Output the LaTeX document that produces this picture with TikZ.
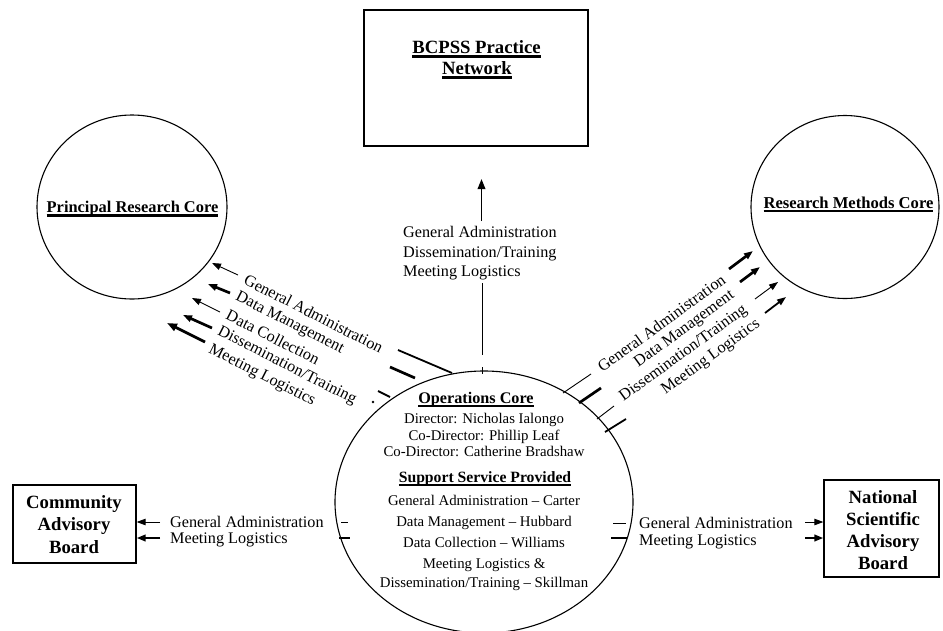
\documentclass[tikz,border=0pt]{standalone}
\usepackage{fontspec}
\setmainfont{Liberation Serif}
\usetikzlibrary{arrows.meta,shapes.geometric}
\newsavebox\myulbox
\newcommand\myul[3]{\sbox\myulbox{#3}\rlap{\rule[-#2]{\wd\myulbox}{#1}}\usebox\myulbox}
\begin{document}
\begin{tikzpicture}[x=1pt,y=-1pt,
  core/.style={ellipse,draw,line width=1.1pt,inner sep=0pt},
  boxnode/.style={rectangle,draw,line width=1.3pt,inner sep=0pt},
  lbl/.style={font=\fontsize{16.2}{19}\selectfont,inner sep=0pt},
  body/.style={font=\fontsize{14.8}{17}\selectfont,inner sep=0pt,anchor=base},
  bighead/.style={font=\fontsize{18.7}{23}\selectfont\bfseries,inner sep=0pt,anchor=base},
  lnA/.style={line width=0.9pt},
  lnB/.style={line width=1.8pt},
  lnC/.style={line width=2.7pt},
  tipA/.style={-{Triangle[length=9pt,width=6.5pt]}},
  tipB/.style={-{Triangle[length=10pt,width=7.5pt]}}]
\useasboundingbox (0,0) rectangle (943,630);

% ---------- main shapes ----------
\node[boxnode,minimum width=224pt,minimum height=136pt] (bcpss) at (476,78) {};
\node[core,minimum width=190pt,minimum height=184pt] (prc) at (132,207) {};
\node[core,minimum width=188pt,minimum height=183pt] (rmc) at (845,207) {};
\node[core,minimum width=298pt,minimum height=262pt] (ops) at (484,502) {};
\node[boxnode,minimum width=123pt,minimum height=78pt] (cab) at (74.5,524) {};
\node[boxnode,minimum width=115pt,minimum height=97pt] (nsab) at (881.5,528.5) {};

% ---------- titles ----------
\node[bighead] (bcpss1) at (476.5,53) {\myul{2.2pt}{4.5pt}{BCPSS Practice}};
\node[bighead] (bcpss2) at (477,74) {\myul{2.2pt}{4.5pt}{Network}};
\node[inner sep=0pt,anchor=base,font=\fontsize{16.4}{18}\selectfont\bfseries] (prct) at (132.5,212) {\myul{2.6pt}{4.5pt}{Principal Research Core}};
\node[inner sep=0pt,anchor=base,font=\fontsize{16.6}{18}\selectfont\bfseries] (rmct) at (848.5,208) {\myul{1.6pt}{4pt}{Research Methods Core}};
\node[bighead] (cab1) at (74,508) {Community};
\node[bighead] (cab2) at (74,530.5) {Advisory};
\node[bighead] (cab3) at (74,553) {Board};
\node[bighead] (ns1) at (883,503) {National};
\node[bighead] (ns2) at (883,525) {Scientific};
\node[bighead] (ns3) at (883,547) {Advisory};
\node[bighead] (ns4) at (883,569) {Board};

% ---------- operations core text ----------
\node[inner sep=0pt,anchor=base,font=\fontsize{16.2}{18}\selectfont\bfseries] (o1) at (476,403) {\myul{1.6pt}{4pt}{Operations Core}};
\node[body] (o2) at (484,423) {Director: Nicholas Ialongo};
\node[body] (o3) at (484,440) {Co-Director: Phillip Leaf};
\node[body] (o4) at (484,456) {Co-Director: Catherine Bradshaw};
\node[inner sep=0pt,anchor=base,font=\fontsize{15.7}{18}\selectfont\bfseries] (o5) at (485,482) {\myul{1.8pt}{4pt}{Support Service Provided}};
\node[body] (o6) at (484,505) {General Administration -- Carter};
\node[body] (o7) at (484,526) {Data Management -- Hubbard};
\node[body] (o8) at (484,547) {Data Collection -- Williams};
\node[body] (o9) at (484,568) {Meeting Logistics \&};
\node[body] (o10) at (484,587) {Dissemination/Training -- Skillman};

% ---------- top connector ----------
\node[lbl,anchor=base west] (t1) at (403,237) {General Administration};
\node[lbl,anchor=base west] (t2) at (403,257) {Dissemination/Training};
\node[lbl,anchor=base west] (t3) at (403,276) {Meeting Logistics};
\coordinate (tu1) at (481.5,221);
\coordinate (tu2) at (481.5,179);
\coordinate (td1) at (482,283);
\coordinate (td2) at (482,355);
\coordinate (tk1) at (482,367);
\coordinate (tk2) at (482,374);
\draw[lnB,tipB] (tu1) -- (tu2);
\draw[lnA] (td1) -- (td2);
\draw[lnA] (tk1) -- (tk2);

% ---------- left connectors to Principal Research Core ----------
\node[lbl,anchor=west,rotate=-27] (l1) at (245.2,278.7) {General Administration};
\node[lbl,anchor=west,rotate=-27] (l2) at (236.3,296.2) {Data Management};
\node[lbl,anchor=west,rotate=-27] (l3) at (227.3,313.8) {Data Collection};
\node[lbl,anchor=west,rotate=-27] (l4) at (218.4,331.3) {Dissemination/Training};
\node[lbl,anchor=west,rotate=-27] (l5) at (209.4,348.9) {Meeting Logistics};
\coordinate (pa1) at (238,275); \coordinate (pb1) at (212,263);
\coordinate (pa2) at (230,293); \coordinate (pb2) at (208,284);
\coordinate (pa3) at (220,312); \coordinate (pb3) at (192,298);
\coordinate (pa4) at (212,328); \coordinate (pb4) at (183,315);
\coordinate (pa5) at (205,342); \coordinate (pb5) at (167,323);
\draw[lnA,tipA] (pa1) -- (pb1);
\draw[lnC,tipA] (pa2) -- (pb2);
\draw[lnA,tipA] (pa3) -- (pb3);
\draw[lnC,tipA] (pa4) -- (pb4);
\draw[lnC,tipB] (pa5) -- (pb5);
\coordinate (pc1) at (398,350); \coordinate (pd1) at (452,373);
\coordinate (pc2) at (390,367); \coordinate (pd2) at (415,378);
\coordinate (pc3) at (378,391); \coordinate (pd3) at (390,397);
\coordinate (pdot) at (373,402);
\draw[lnB] (pc1) -- (pd1);
\draw[lnC] (pc2) -- (pd2);
\draw[lnB] (pc3) -- (pd3);
\fill (pdot) circle (1.4pt);

% ---------- right connectors to Research Methods Core ----------
\node[lbl,rotate=36] (r1) at (661.3,323.0) {General Administration};
\node[lbl,rotate=36] (r2) at (684.6,329.5) {Data Management};
\node[lbl,rotate=36] (r3) at (683.6,353.7) {Dissemination/Training};
\node[lbl,rotate=36] (r4) at (711.0,357.4) {Meeting Logistics};
\coordinate (ra1) at (729,269); \coordinate (rb1) at (753,251);
\coordinate (ra2) at (740,282); \coordinate (rb2) at (760,267);
\coordinate (ra3) at (755,299); \coordinate (rb3) at (778,282);
\coordinate (ra4) at (765,313); \coordinate (rb4) at (786,297);
\draw[lnC,tipA] (ra1) -- (rb1);
\draw[lnC,tipA] (ra2) -- (rb2);
\draw[lnA,tipA] (ra3) -- (rb3);
\draw[lnB,tipA] (ra4) -- (rb4);
\coordinate (rc1) at (563,393); \coordinate (rd1) at (591,374);
\coordinate (rc2) at (579,403); \coordinate (rd2) at (601,388);
\coordinate (rc3) at (597,419); \coordinate (rd3) at (614,406);
\coordinate (rc4) at (605,432); \coordinate (rd4) at (626,419);
\draw[lnA] (rc1) -- (rd1);
\draw[lnC] (rc2) -- (rd2);
\draw[lnA] (rc3) -- (rd3);
\draw[lnB] (rc4) -- (rd4);

% ---------- Community Advisory Board ----------
\node[lbl,anchor=base west] (c1) at (170,527) {General Administration};
\node[lbl,anchor=base west] (c2) at (170,543) {Meeting Logistics};
\coordinate (ca1) at (160,522); \coordinate (cb1) at (cab.east |- ca1);
\coordinate (ca2) at (160,538); \coordinate (cb2) at (cab.east |- ca2);
\draw[lnA,tipA] (ca1) -- (cb1);
\draw[lnC,tipA] (ca2) -- (cb2);
\coordinate (cc1) at (341,522); \coordinate (cd1) at (348,522);
\coordinate (cc2) at (339,538); \coordinate (cd2) at (350,538);
\draw[lnA] (cc1) -- (cd1);
\draw[lnC] (cc2) -- (cd2);

% ---------- National Scientific Advisory Board ----------
\node[lbl,anchor=base west] (n1) at (639,528) {General Administration};
\node[lbl,anchor=base west] (n2) at (639,545) {Meeting Logistics};
\coordinate (na1) at (805,522); \coordinate (nb1) at (nsab.west |- na1);
\coordinate (na2) at (805,538); \coordinate (nb2) at (nsab.west |- na2);
\draw[lnA,tipA] (na1) -- (nb1);
\draw[lnC,tipA] (na2) -- (nb2);
\coordinate (nc1) at (613,523); \coordinate (nd1) at (626,523);
\coordinate (nc2) at (611,538); \coordinate (nd2) at (627,538);
\draw[lnA] (nc1) -- (nd1);
\draw[lnC] (nc2) -- (nd2);
\end{tikzpicture}
\end{document}
